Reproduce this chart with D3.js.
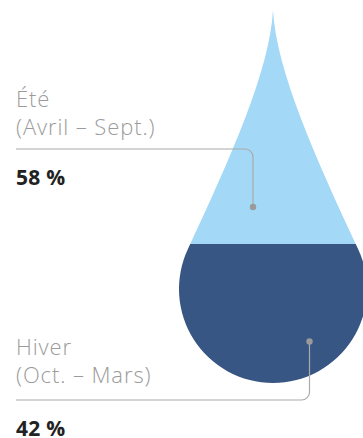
<!DOCTYPE html>
<html>
<head>
<meta charset="utf-8">
<script src="https://cdn.jsdelivr.net/npm/d3@7"></script>
<style>
  body { margin: 0; background: #fff; }
  svg { display: block; }
  .season { font-family: "Open Sans", sans-serif; font-weight: 300; font-size: 22px; letter-spacing: 0.9px; fill: #9b9b9b; }
  .share { font-family: "Open Sans", sans-serif; font-weight: 700; font-size: 21px; letter-spacing: 0.3px; fill: #222; }
</style>
</head>
<body>
<script>
// data
let seasons = ["Été", "Hiver"];
let periods = ["(Avril – Sept.)", "(Oct. – Mars)"];
let shares = [58, 42];

let width = 363,
  height = 438;

let colours = ["#a3d9f6", "#385684"];

// drop geometry
let cx = 273,
  tipY = 10,
  cy = 289,
  r = 94,
  phi = 25 * Math.PI / 180;

// fill level scale (share of winter, from the bottom)
let level = d3.scaleLinear()
  .domain([0, 100])
  .range([cy + r, 52]);

let svg = d3.select("body").append("svg")
  .attr("width", width)
  .attr("height", height);

//build the drop outline
function dropPath() {
  let p = d3.path();
  let px = cx - r * Math.cos(phi),
    py = cy - r * Math.sin(phi),
    t = 100;
  p.moveTo(cx, tipY);
  p.bezierCurveTo(cx - 3, tipY + 60,
    px + t * Math.sin(phi), py - t * Math.cos(phi),
    px, py);
  p.arc(cx, cy, r, Math.PI + phi, -phi, true);
  p.bezierCurveTo(cx + r * Math.cos(phi) - t * Math.sin(phi), py - t * Math.cos(phi),
    cx + 3, tipY + 60,
    cx, tipY);
  p.closePath();
  return p.toString();
}

svg.append("defs").append("clipPath")
  .attr("id", "drop")
  .append("path")
  .attr("d", dropPath());

let split = level(shares[1]);

// two bands clipped by the drop: summer on top, winter at the bottom
let bands = [
  { y0: tipY, y1: split, colour: colours[0] },
  { y0: split, y1: cy + r, colour: colours[1] }
];

svg.append("g")
  .attr("clip-path", "url(#drop)")
  .selectAll("rect")
  .data(bands)
  .enter().append("rect")
  .attr("x", cx - r - 5)
  .attr("y", function(d) { return d.y0; })
  .attr("width", 2 * r + 10)
  .attr("height", function(d) { return d.y1 - d.y0; })
  .attr("fill", function(d) { return d.colour; });

// label layout
let labels = [
  { top: 107, lineY: 149, dotX: 253, dotY: 207, shareY: 185 },
  { top: 355, lineY: 400, dotX: 309.5, dotY: 341.5, shareY: 436 }
];

//leader lines with a rounded corner
function leader(d) {
  let p = d3.path();
  p.moveTo(16, d.lineY);
  p.arcTo(d.dotX, d.lineY, d.dotX, d.dotY, 8);
  p.lineTo(d.dotX, d.dotY);
  return p.toString();
}

svg.append("g")
  .selectAll("path")
  .data(labels)
  .enter().append("path")
  .attr("d", leader)
  .attr("fill", "none")
  .attr("stroke", "#aaa")
  .attr("stroke-width", 1.2);

svg.append("g")
  .selectAll("circle")
  .data(labels)
  .enter().append("circle")
  .attr("cx", function(d) { return d.dotX; })
  .attr("cy", function(d) { return d.dotY; })
  .attr("r", 3.2)
  .attr("fill", "#9a9a9a");

// texts
let text = svg.append("g")
  .selectAll("g")
  .data(labels)
  .enter().append("g");

text.append("text")
  .attr("class", "season")
  .attr("x", 16)
  .attr("y", function(d) { return d.top; })
  .text(function(d, i) { return seasons[i]; });

text.append("text")
  .attr("class", "season")
  .attr("x", 16)
  .attr("y", function(d) { return d.top + 28; })
  .text(function(d, i) { return periods[i]; });

text.append("text")
  .attr("class", "share")
  .attr("x", 16)
  .attr("y", function(d) { return d.shareY; })
  .text(function(d, i) { return shares[i] + " %"; });
</script>
</body>
</html>
